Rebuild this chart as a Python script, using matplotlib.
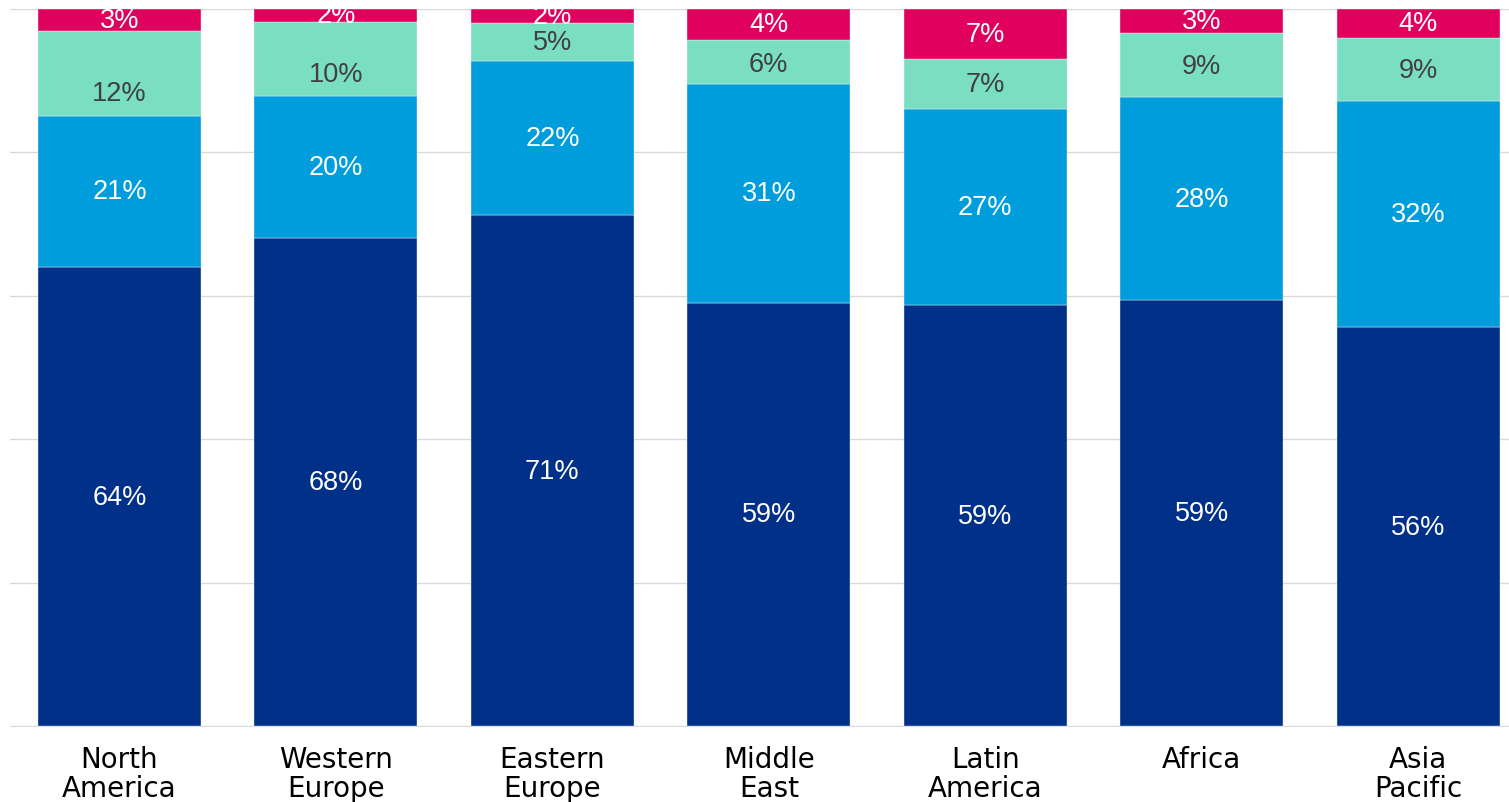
import numpy as np
import matplotlib.pyplot as plt

regions = ["North\nAmerica", "Western\nEurope", "Eastern\nEurope", "Middle\nEast",
           "Latin\nAmerica", "Africa", "Asia\nPacific"]
s1 = [64.0, 68.1, 71.2, 59.0, 58.7, 59.4, 55.6]
s2 = [21.1, 19.7, 21.6, 30.6, 27.4, 28.3, 31.6]
s3 = [11.9, 10.4, 5.2, 6.1, 6.9, 8.9, 8.8]
s4 = [3.0, 1.8, 2.0, 4.3, 7.0, 3.4, 4.0]

series = [s1, s2, s3, s4]
colors = ["#003087", "#009ddc", "#7adfc1", "#e0005e"]
txtcol = ["white", "white", "#404040", "white"]
# label nudges (in % units) for the green segments, as in the original
nudge = [[0] * 7, [0] * 7, [-2.8, -2.1, 0, -0.3, 0, -0.1, -0.1], [0] * 7]

fig = plt.figure(figsize=(15.09, 8.03), dpi=100)
ax = fig.add_axes([10/1509, 75/803, 1499/1509, 718/803])

x = np.arange(len(regions))
bottom = np.zeros(len(regions))
for vals, c, tc, nd in zip(series, colors, txtcol, nudge):
    vals = np.array(vals)
    ax.bar(x, vals, 0.753, bottom=bottom, color=c, edgecolor="#e8f0f8",
           linewidth=0.3, zorder=2)
    for xi, b, v, n in zip(x, bottom, vals, nd):
        ax.text(xi, b + v / 2 + n, f"{v:.0f}%", ha="center", va="center", color=tc,
                fontsize=19.5, family="Liberation Sans", zorder=3)
    bottom += vals

ax.set_xlim(-0.506, 6.42)
ax.set_ylim(-0.15, 100)
ax.set_yticks([0, 20, 40, 60, 80, 100])
ax.yaxis.grid(True, color="#d9d9d9", linewidth=1)
ax.set_axisbelow(True)
ax.tick_params(axis="y", length=0, labelleft=False)
ax.set_xticks(x)
ax.set_xticklabels(regions, fontsize=20, family="DejaVu Sans", linespacing=1.05)
ax.tick_params(axis="x", length=0, pad=13)
for s in ax.spines.values():
    s.set_visible(False)

fig.savefig("out.png", dpi=100)
